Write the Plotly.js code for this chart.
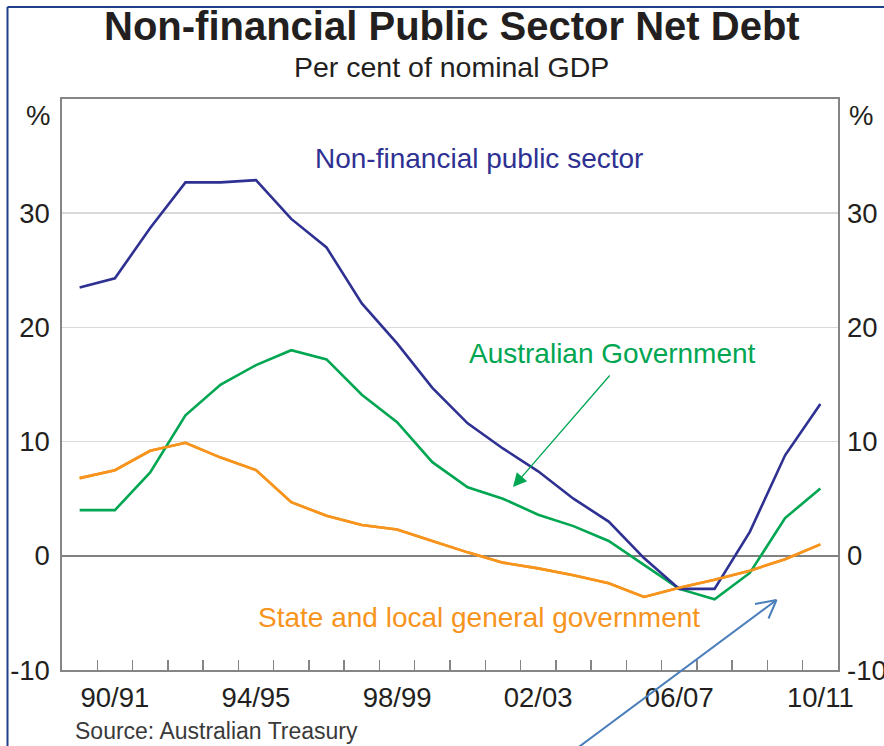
<!DOCTYPE html>
<html>
<head>
<meta charset="utf-8">
<script src="https://cdn.plot.ly/plotly-3.0.1.min.js"></script>
<style>
  html, body { margin: 0; padding: 0; background: #ffffff; }
  #chart { width: 884px; height: 746px; }
</style>
</head>
<body>
<div id="chart"></div>
<script>
// ---- Data ----
const categories = ['89/90','90/91','91/92','92/93','93/94','94/95','95/96','96/97','97/98','98/99','99/00',
                    '00/01','01/02','02/03','03/04','04/05','05/06','06/07','07/08','08/09','09/10','10/11'];
const tickLabels = ['90/91','94/95','98/99','02/03','06/07','10/11'];
const nfpsValues = [23.5, 24.3, 28.7, 32.7, 32.7, 32.9, 29.5, 27.0, 22.1, 18.6, 14.7,
                    11.6, 9.4, 7.4, 5.0, 3.0, -0.2, -2.9, -2.9, 2.1, 8.8, 13.3];
const ausGovValues = [4.0, 4.0, 7.3, 12.3, 15.0, 16.7, 18.0, 17.2, 14.1, 11.7, 8.2,
                      6.0, 5.0, 3.6, 2.6, 1.3, -0.8, -2.9, -3.8, -1.5, 3.3, 5.9];
const stateValues = [6.8, 7.5, 9.2, 9.9, 8.6, 7.5, 4.7, 3.5, 2.7, 2.3, 1.3,
                     0.3, -0.6, -1.1, -1.7, -2.4, -3.6, -2.8, -2.1, -1.3, -0.3, 1.0];
const yTickVals = [-10, 0, 10, 20, 30];

// ---- Styling ----
const FONT = 'Liberation Sans, Arial, Helvetica, sans-serif';
const BLUE = '#2e3192';
const GREEN = '#00a651';
const ORANGE = '#f7941d';
const TEXT = '#231f20';
const FRAME = '#858585';

// pixel -> paper helpers (plot area: x 62..838, y 99..670)
const L = 62, R = 838, T = 99, B = 670;
const PX = x => (x - L) / (R - L);
const PY = y => (B - y) / (B - T);

const traces = [
  { x: categories, y: stateValues, type: 'scatter', mode: 'lines', name: 'State and local general government',
    line: { color: ORANGE, width: 2.6 }, hoverinfo: 'x+y' },
  { x: categories, y: ausGovValues, type: 'scatter', mode: 'lines', name: 'Australian Government',
    line: { color: GREEN, width: 2.6 }, hoverinfo: 'x+y' },
  { x: categories, y: nfpsValues, type: 'scatter', mode: 'lines', name: 'Non-financial public sector',
    line: { color: BLUE, width: 2.6 }, hoverinfo: 'x+y' },
  // same series on the right-hand axis (identical scale) so that axis is drawn
  { x: categories, y: stateValues, type: 'scatter', mode: 'lines', yaxis: 'y2', showlegend: false,
    line: { color: ORANGE, width: 2.6 }, hoverinfo: 'skip' }
];

const yCommon = {
  range: [-10, 40],
  tickvals: yTickVals,
  ticktext: yTickVals.map(String),
  ticks: '',
  ticklabelstandoff: 5,
  tickfont: { family: FONT, size: 27.5, color: TEXT },
  fixedrange: true
};

const layout = {
  width: 884,
  height: 746,
  margin: { l: L, r: 884 - R, t: T, b: 746 - B, pad: 0 },
  paper_bgcolor: '#ffffff',
  plot_bgcolor: '#ffffff',
  showlegend: false,
  xaxis: {
    type: 'category',
    range: [-0.5, categories.length - 0.5],
    tickson: 'boundaries',
    tickvals: categories,
    ticktext: categories.map(c => tickLabels.includes(c) ? c : ''),
    tickangle: 0,
    ticks: 'inside',
    ticklen: 10,
    tickwidth: 1.5,
    tickcolor: FRAME,
    ticklabelstandoff: 2,
    tickfont: { family: FONT, size: 27.5, color: TEXT },
    showgrid: false,
    zeroline: false,
    showline: true,
    mirror: true,
    linecolor: FRAME,
    linewidth: 1.6,
    fixedrange: true
  },
  yaxis: Object.assign({}, yCommon, {
    side: 'left',
    showgrid: true,
    gridcolor: '#d9d9d9',
    gridwidth: 1.5,
    zeroline: true,
    zerolinecolor: '#808080',
    zerolinewidth: 1.6,
    showline: true,
    mirror: true,
    linecolor: FRAME,
    linewidth: 1.6
  }),
  yaxis2: Object.assign({}, yCommon, {
    overlaying: 'y',
    side: 'right',
    ticklabelstandoff: 8,
    showgrid: false,
    zeroline: false,
    showline: false
  }),
  annotations: [
    { text: '<b>Non-financial Public Sector Net Debt</b>', xref: 'paper', yref: 'paper',
      x: PX(451.5), y: PY(26), xanchor: 'center', yanchor: 'middle', showarrow: false,
      font: { family: FONT, size: 40, color: TEXT } },
    { text: 'Per cent of nominal GDP', xref: 'paper', yref: 'paper',
      x: PX(451), y: PY(67), xanchor: 'center', yanchor: 'middle', showarrow: false,
      font: { family: FONT, size: 28.5, color: TEXT } },
    { text: '%', xref: 'paper', yref: 'paper', x: PX(37.5), y: PY(115), xanchor: 'center', yanchor: 'middle',
      showarrow: false, font: { family: FONT, size: 27.5, color: TEXT } },
    { text: '%', xref: 'paper', yref: 'paper', x: PX(861), y: PY(115), xanchor: 'center', yanchor: 'middle',
      showarrow: false, font: { family: FONT, size: 27.5, color: TEXT } },
    { text: 'Non-financial public sector', xref: 'paper', yref: 'paper', x: PX(479), y: PY(158),
      xanchor: 'center', yanchor: 'middle', showarrow: false, font: { family: FONT, size: 28, color: BLUE } },
    { text: 'Australian Government', xref: 'paper', yref: 'paper', x: PX(612), y: PY(353),
      xanchor: 'center', yanchor: 'middle', showarrow: false, font: { family: FONT, size: 28, color: GREEN } },
    { text: 'State and local general government', xref: 'paper', yref: 'paper', x: PX(479), y: PY(617),
      xanchor: 'center', yanchor: 'middle', showarrow: false, font: { family: FONT, size: 28, color: ORANGE } },
    { text: 'Source: Australian Treasury', xref: 'paper', yref: 'paper', x: PX(73), y: PY(731),
      xanchor: 'left', yanchor: 'middle', showarrow: false, font: { family: FONT, size: 23, color: '#3a3a3a' } },
    // green pointer arrow
    { text: '', xref: 'paper', yref: 'paper', x: PX(513), y: PY(487), ax: 98, ay: -113,
      showarrow: true, arrowhead: 2, arrowsize: 2.1, arrowwidth: 1.3, arrowcolor: GREEN, standoff: 0 }
  ],
  shapes: [
    // outer border (left and top)
    { type: 'line', xref: 'paper', yref: 'paper', x0: PX(7.5), y0: PY(7), x1: PX(7.5), y1: PY(760),
      line: { color: '#1f3f8a', width: 2 }, layer: 'above' },
    { type: 'line', xref: 'paper', yref: 'paper', x0: PX(7.5), y0: PY(7), x1: PX(890), y1: PY(7),
      line: { color: '#1f3f8a', width: 2 }, layer: 'above' },
    // blue overlay arrow
    { type: 'line', xref: 'paper', yref: 'paper', x0: PX(568), y0: PY(755), x1: PX(776.5), y1: PY(600),
      line: { color: '#4a7ebb', width: 2 }, layer: 'above' },
    { type: 'line', xref: 'paper', yref: 'paper', x0: PX(755), y0: PY(604), x1: PX(776.5), y1: PY(600),
      line: { color: '#4a7ebb', width: 2 }, layer: 'above' },
    { type: 'line', xref: 'paper', yref: 'paper', x0: PX(768.5), y0: PY(618.5), x1: PX(776.5), y1: PY(600),
      line: { color: '#4a7ebb', width: 2 }, layer: 'above' }
  ]
};

Plotly.newPlot('chart', traces, layout, { displayModeBar: false, staticPlot: true });
</script>
</body>
</html>
